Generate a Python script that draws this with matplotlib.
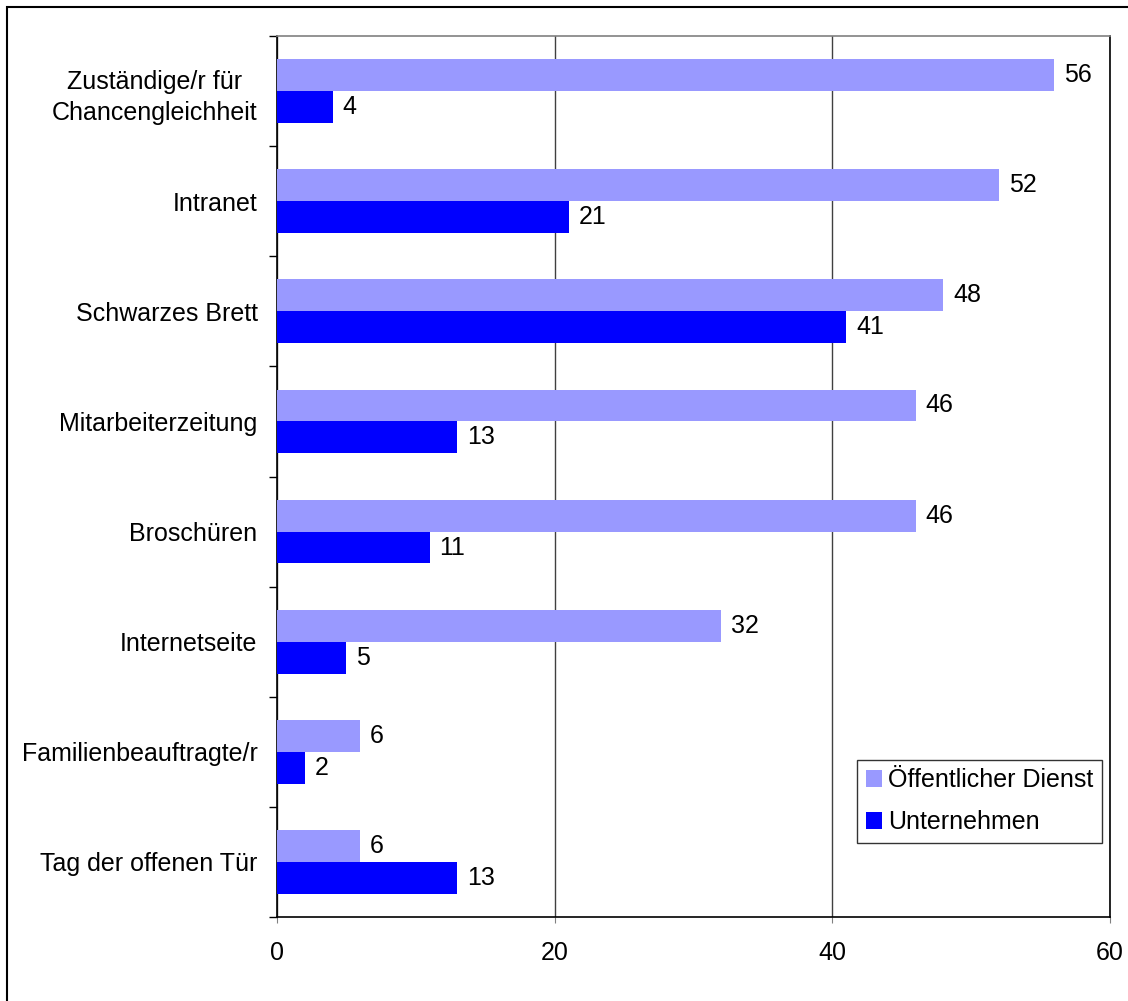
import matplotlib.pyplot as plt
from matplotlib.patches import Rectangle

plt.rcParams['font.family'] = ['Liberation Sans', 'DejaVu Sans']

categories = ["Zuständige/r für\nChancengleichheit", "Intranet", "Schwarzes Brett",
              "Mitarbeiterzeitung", "Broschüren", "Internetseite",
              "Familienbeauftragte/r", "Tag der offenen Tür"]
oeffentlich = [56, 52, 48, 46, 46, 32, 6, 6]
unternehmen = [4, 21, 41, 13, 11, 5, 2, 13]
series_names = ["Öffentlicher Dienst", "Unternehmen"]
x_ticks = [0, 20, 40, 60]

light = "#9999FF"
dark = "#0000FF"
fs = 18

fig = plt.figure(figsize=(11.28, 10.01), dpi=100)
ax = fig.add_axes([277 / 1128, 1 - 917 / 1001, (1110 - 277) / 1128, (917 - 36) / 1001])

y = list(range(len(categories)))
h = 0.29
b1 = ax.barh([v - h / 2 for v in y], oeffentlich, height=h, color=light, label=series_names[0], zorder=3)
b2 = ax.barh([v + h / 2 for v in y], unternehmen, height=h, color=dark, label=series_names[1], zorder=3)

for bars in (b1, b2):
    labels = ax.bar_label(bars, padding=7, fontsize=fs)
    for t in labels:
        t.set_bbox(dict(facecolor='white', edgecolor='none', pad=1))
        t.set_zorder(5)

ax.set_xlim(0, 60)
ax.set_ylim(len(categories) - 0.5, -0.5)
ax.set_xticks(x_ticks)
ax.set_yticks(y)
ax.set_yticklabels(categories, fontsize=fs, multialignment='center', linespacing=1.4)
ax.set_yticks([v - 0.5 for v in range(len(categories) + 1)], minor=True)
ax.tick_params(axis='y', which='major', length=0, pad=14)
ax.tick_params(axis='y', which='minor', length=6, width=1, direction='out')
ax.tick_params(axis='x', length=4, pad=13, labelsize=fs, color='#808080')

ax.grid(axis='x', color='#404040', linewidth=1, zorder=0)
ax.spines['top'].set_color('#808080')
for s in ('left', 'bottom', 'right'):
    ax.spines[s].set_color('black')
for s in ax.spines.values():
    s.set_linewidth(1.2)

leg = ax.legend(loc='lower right', bbox_to_anchor=(1102 / 1128, 1 - 843 / 1001),
                bbox_transform=fig.transFigure, fontsize=fs, frameon=True, fancybox=False,
                handlelength=0.65, handleheight=0.65, handletextpad=0.25, borderpad=0.35,
                labelspacing=0.72, borderaxespad=0)
leg.get_frame().set_edgecolor('black')
leg.get_frame().set_linewidth(1)

# outer frame, only the top and left edges fall inside the image
fig.patches.append(Rectangle((7, -20), 1200, 1001 - 7 + 20, transform=None, fill=False,
                             edgecolor='black', linewidth=1.5))

fig.savefig("out.png", dpi=100)
